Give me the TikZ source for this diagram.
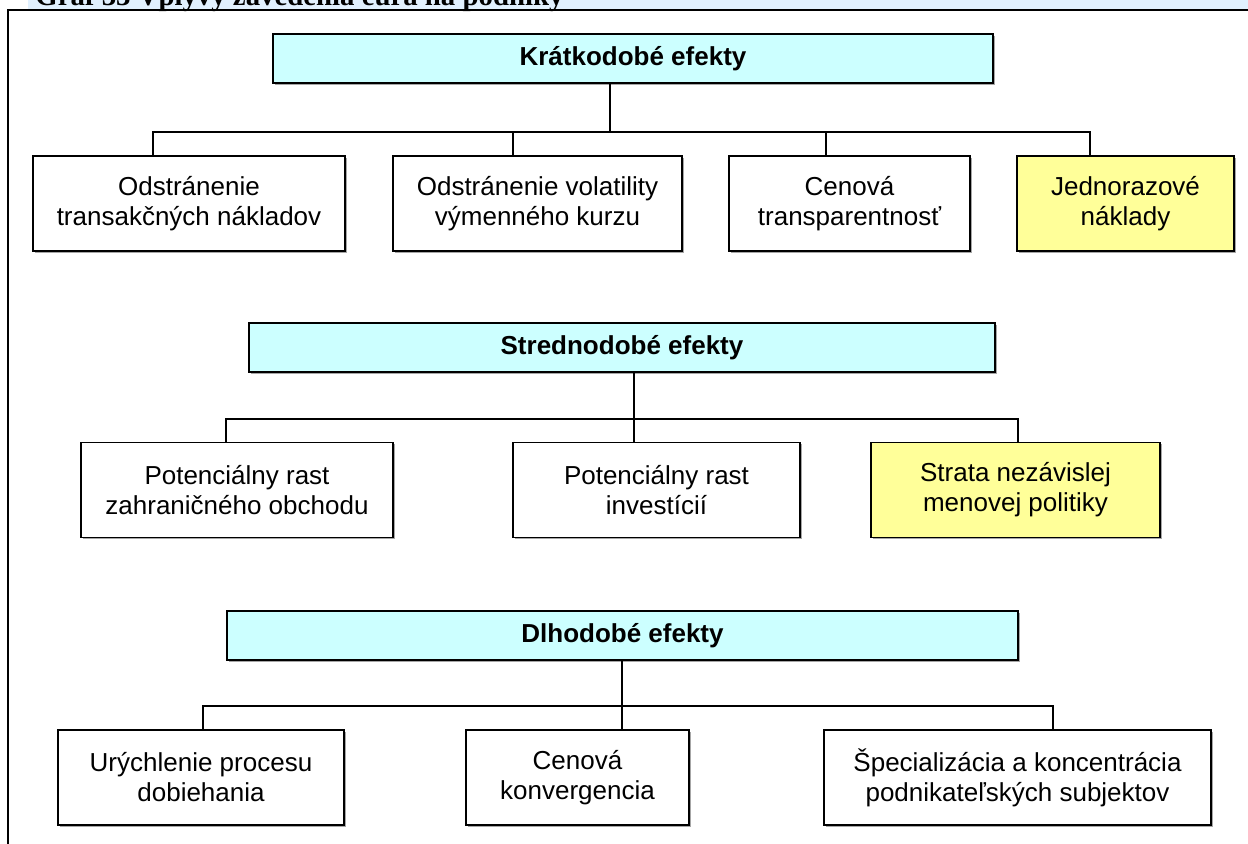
\documentclass[tikz,border=0pt]{standalone}
\usepackage{fontspec}
\setmainfont{Liberation Sans}
\newfontfamily\titlefont{Liberation Serif}
\usepackage{tikz}
\usetikzlibrary{shadows}

\definecolor{headcyan}{HTML}{CCFFFF}
\definecolor{costyellow}{HTML}{FFFF99}
\definecolor{bandblue}{HTML}{E1F0FE}

\tikzset{
  box/.style={draw, line width=0.85pt, fill=white, align=center, inner sep=0pt,
    font=\fontsize{13}{15}\selectfont,
    drop shadow={shadow xshift=0.9pt, shadow yshift=-0.9pt, fill=gray!70, opacity=1}},
  head/.style={box, fill=headcyan, font=\fontsize{13}{15}\selectfont\bfseries, minimum height=24.5pt},
  leaf/.style={box, minimum height=47.5pt},
  cost/.style={leaf, fill=costyellow},
  link/.style={line width=0.75pt}
}

\begin{document}
\begin{tikzpicture}[x=0.5pt,y=-0.5pt]
\useasboundingbox (0,0) rectangle (1248,844);
\clip (0,0) rectangle (1248,844);

% caption band, cut at the top edge
\fill[bandblue] (28,0) rectangle (1248,9);
\node[anchor=base west, inner sep=0pt, font=\titlefont\fontsize{14.4}{16}\selectfont\bfseries] (title) at (35,6) {Graf 33 Vplyvy zavedenia eura na podniky};
\draw[line width=1pt] (7,10.5) -- (1248,10.5);
\draw[line width=1pt] (8,10) -- (8,844);

% short-term
\node[head, minimum width=360pt] (K) at (633,58.5) {Krátkodobé efekty};
\node[leaf, minimum width=156pt] (k1) at (189,203.5) {Odstránenie\\transakčných nákladov};
\node[leaf, minimum width=144.5pt] (k2) at (537.5,203.5) {Odstránenie volatility\\výmenného kurzu};
\node[leaf, minimum width=120.5pt] (k3) at (849.5,203.5) {Cenová\\transparentnosť};
\node[cost, minimum width=108.5pt] (k4) at (1125.5,203.5) {Jednorazové\\náklady};
\coordinate (kbus) at (610,132);
\draw[link] (K.south -| kbus) -- (kbus);
\foreach \n/\x in {k1/153,k2/513,k3/826,k4/1090}
  \draw[link] (kbus) -| (\x,0 |- \n.north);

% medium-term
\node[head, minimum width=373pt] (S) at (622,347.5) {Strednodobé efekty};
\node[leaf, minimum width=156pt] (s1) at (237,490) {Potenciálny rast\\zahraničného obchodu};
\node[leaf, minimum width=143.5pt] (s2) at (656.5,490) {Potenciálny rast\\investícií};
\node[cost, minimum width=144.5pt] (s3) at (1015.5,490) {Strata nezávislej\\menovej politiky};
\coordinate (sbus) at (634,419);
\draw[link] (S.south -| sbus) -- (sbus);
\foreach \n/\x in {s1/226,s2/634,s3/1018}
  \draw[link] (sbus) -| (\x,0 |- \n.north);

% long-term
\node[head, minimum width=395.5pt] (D) at (622.5,635.5) {Dlhodobé efekty};
\node[leaf, minimum width=143pt] (d1) at (201,777.5) {Urýchlenie procesu\\dobiehania};
\node[leaf, minimum width=111.5pt] (d2) at (577.5,777.5) {Cenová\\konvergencia};
\node[leaf, minimum width=193.5pt] (d3) at (1017.5,777.5) {Špecializácia a koncentrácia\\podnikateľských subjektov};
\coordinate (dbus) at (622,706);
\draw[link] (D.south -| dbus) -- (dbus);
\foreach \n/\x in {d1/203,d2/622,d3/1053}
  \draw[link] (dbus) -| (\x,0 |- \n.north);
\end{tikzpicture}
\end{document}
